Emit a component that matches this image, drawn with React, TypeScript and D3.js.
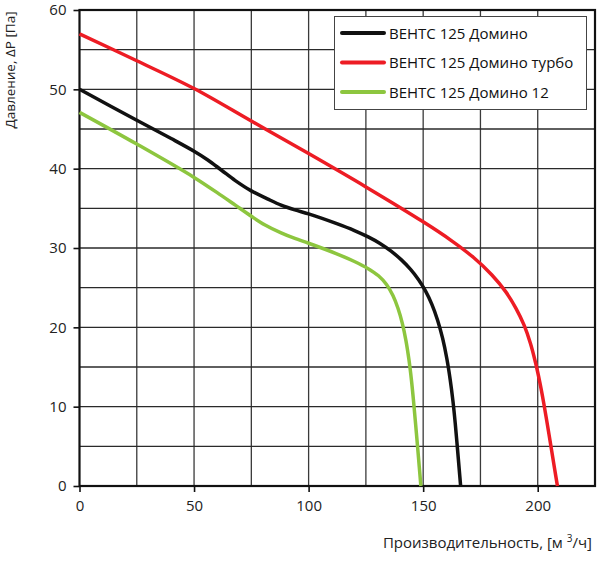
import * as d3 from "d3";
import { useEffect, useRef } from "react";

// Fan curves: flow [m3/h] vs pressure [Pa]
const seriesNames = ["ВЕНТС 125 Домино", "ВЕНТС 125 Домино турбо", "ВЕНТС 125 Домино 12"];
const seriesColors = ["#111111", "#ed1c24", "#8dc63f"];

const dominoFlow = [0, 25, 40, 50, 56, 62, 68, 75, 82, 88, 94, 100, 112, 120, 126, 131, 136, 140.5, 144.5, 148, 151, 153.8, 156.3, 158.5, 160.3, 161.8, 163, 164, 165, 166, 166.35];
const dominoPressure = [50, 46.1, 43.8, 42.2, 41.1, 39.8, 38.5, 37.2, 36.2, 35.4, 34.8, 34.3, 33.1, 32.2, 31.4, 30.6, 29.6, 28.5, 27.3, 26, 24.6, 22.9, 20.9, 18.6, 16.1, 13.4, 10.7, 7.9, 4.6, 1.2, 0];

const turboFlow = [0, 25, 50, 75, 100, 125, 150, 162, 172, 180, 186, 190.5, 194, 196.8, 199, 200.9, 202.6, 204.3, 206, 207.4, 208.6];
const turboPressure = [57, 53.6, 50.1, 46, 41.9, 37.7, 33.3, 31, 28.8, 26.6, 24.5, 22.4, 20.3, 18, 15.6, 13.1, 10.5, 7.6, 4.6, 2.1, 0];

const domino12Flow = [0, 25, 50, 62, 68, 75, 81, 88, 94, 100, 112, 120, 126, 130.5, 134, 136.8, 139, 140.9, 142.5, 143.8, 144.9, 145.8, 146.7, 147.6, 148.3, 149];
const domino12Pressure = [47.1, 43.1, 38.9, 36.6, 35.4, 34, 32.9, 31.9, 31.2, 30.6, 29.3, 28.3, 27.4, 26.5, 25.4, 24, 22.4, 20.5, 18.3, 15.9, 13.3, 10.7, 7.8, 4.8, 2.4, 0];

const xTicks = [0, 50, 100, 150, 200];
const yTicks = [0, 10, 20, 30, 40, 50, 60];
const xGrid = [25, 50, 75, 100, 125, 150, 175, 200];
const yGrid = [5, 10, 15, 20, 25, 30, 35, 40, 45, 50, 55];

const width = 600;
const height = 565;
const font = "'Open Sans', 'Noto Sans', sans-serif";

const App = () => {
  const svgRef = useRef<SVGSVGElement>(null);

  useEffect(() => {
    if (!svgRef.current) return;
    const svg = d3.select(svgRef.current);
    svg.selectAll("*").remove();

    const x = d3.scaleLinear().domain([0, 225]).range([79.5, 595]);
    const y = d3.scaleLinear().domain([0, 60]).range([486, 10]);

    // grid
    const grid = svg.append("g");
    grid
      .selectAll("line.v")
      .data(xGrid)
      .join("line")
      .attr("x1", d => x(d))
      .attr("x2", d => x(d))
      .attr("y1", y(0))
      .attr("y2", y(60))
      .attr("stroke", "#3a3a3a")
      .attr("stroke-width", 1.3);
    grid
      .selectAll("line.h")
      .data(yGrid)
      .join("line")
      .attr("x1", x(0))
      .attr("x2", x(225))
      .attr("y1", d => y(d))
      .attr("y2", d => y(d))
      .attr("stroke", "#2a2a2a")
      .attr("stroke-width", 1.3);

    // axes with outward ticks
    const xAxis = svg
      .append("g")
      .attr("transform", `translate(0,${y(0)})`)
      .call(d3.axisBottom(x).tickValues(xTicks).tickSize(6).tickPadding(8).tickSizeOuter(0));
    const yAxis = svg
      .append("g")
      .attr("transform", `translate(${x(0)},0)`)
      .call(d3.axisLeft(y).tickValues(yTicks).tickSize(6).tickPadding(7).tickSizeOuter(0));
    [xAxis, yAxis].forEach(a => {
      a.select(".domain").remove();
      a.selectAll(".tick line").attr("stroke", "#111").attr("stroke-width", 1.6);
      a.selectAll(".tick text")
        .attr("fill", "#222")
        .attr("font-family", font)
        .attr("font-size", 15);
    });

    // frame
    svg
      .append("rect")
      .attr("x", x(0))
      .attr("y", y(60))
      .attr("width", x(225) - x(0))
      .attr("height", y(0) - y(60))
      .attr("fill", "none")
      .attr("stroke", "#111")
      .attr("stroke-width", 2.2);

    // curves
    const series = [
      { flow: dominoFlow, pressure: dominoPressure },
      { flow: turboFlow, pressure: turboPressure },
      { flow: domino12Flow, pressure: domino12Pressure },
    ];
    const line = d3
      .line<[number, number]>()
      .x(d => x(d[0]))
      .y(d => y(d[1]))
      .curve(d3.curveCatmullRom.alpha(0.5));
    series.forEach((s, i) => {
      const pts = s.flow.map((f, j) => [f, s.pressure[j]] as [number, number]);
      svg
        .append("path")
        .datum(pts)
        .attr("fill", "none")
        .attr("stroke", seriesColors[i])
        .attr("stroke-width", 3.5)
        .attr("stroke-linejoin", "round")
        .attr("d", line);
    });

    // legend
    const legend = svg.append("g");
    legend
      .append("rect")
      .attr("x", 334.5)
      .attr("y", 16.5)
      .attr("width", 252)
      .attr("height", 93)
      .attr("fill", "#fff")
      .attr("stroke", "#444")
      .attr("stroke-width", 1);
    seriesNames.forEach((name, i) => {
      const ly = 33 + i * 29.5;
      legend
        .append("line")
        .attr("x1", 342)
        .attr("x2", 384)
        .attr("y1", ly)
        .attr("y2", ly)
        .attr("stroke", seriesColors[i])
        .attr("stroke-width", 4)
        .attr("stroke-linecap", "round");
      legend
        .append("text")
        .attr("x", 389)
        .attr("y", ly + 5.5)
        .attr("font-family", font)
        .attr("font-size", 15)
        .attr("fill", "#111")
        .text(name);
    });

    // titles
    const xt = svg
      .append("text")
      .attr("x", 592)
      .attr("y", 548)
      .attr("text-anchor", "end")
      .attr("font-family", font)
      .attr("font-size", 15)
      .attr("fill", "#222");
    xt.append("tspan").text("Производительность, [м ");
    xt.append("tspan").attr("font-size", 10).attr("dy", -6).text("3");
    xt.append("tspan").attr("dy", 6).text("/ч]");

    svg
      .append("text")
      .attr("transform", "translate(15,70) rotate(-90)")
      .attr("text-anchor", "middle")
      .attr("font-family", font)
      .attr("font-size", 13.5)
      .attr("fill", "#222")
      .text("Давление, ΔP [Па]");
  }, []);

  return (
    <svg
      ref={svgRef}
      width={width}
      height={height}
      style={{ position: "absolute", left: 0, top: 0, background: "#fff" }}
    />
  );
};

export default App;
